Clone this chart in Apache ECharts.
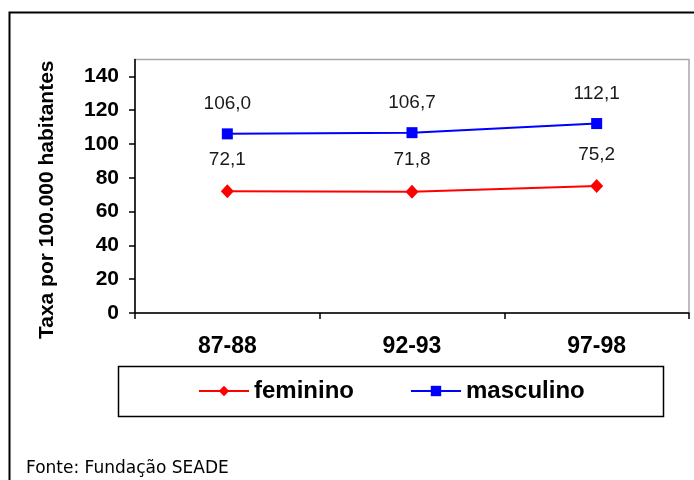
<!doctype html>
<html lang="pt">
<head>
<meta charset="utf-8">
<title>Taxa por 100.000 habitantes</title>
<script src="https://cdn.jsdelivr.net/npm/echarts@6/dist/echarts.min.js"></script>
<style>
html, body { margin: 0; padding: 0; background: #fff; }
#chart { width: 694px; height: 480px; }
</style>
</head>
<body>
<div id="chart"></div>
<script>
var periodos = ['87-88', '92-93', '97-98'];
var feminino = [72.1, 71.8, 75.2];
var masculino = [106.0, 106.7, 112.1];
var yTicks = [0, 20, 40, 60, 80, 100, 120, 140];

// rótulos com vírgula decimal
function virgula(p) {
    return p.value.toFixed(1).replace('.', ',');
}

var fonte = 'Liberation Sans, Arial, sans-serif';

var labelStyle = {
    show: true,
    position: 'top',
    distance: 15,
    formatter: virgula,
    fontFamily: fonte,
    fontSize: 19,
    color: '#1a1a1a'
};

var myChart = echarts.init(document.getElementById('chart'));

var option = {
    backgroundColor: '#fff',
    animation: false,
    grid: {
        left: 135,
        right: 5,
        top: 59.5,
        bottom: 167,
        show: true,
        borderColor: '#a8a8a8',
        borderWidth: 1.5,
        containLabel: false
    },
    legend: {
        left: 198,
        top: 379,
        padding: 0,
        itemGap: 56,
        itemWidth: 50,
        itemHeight: 13,
        textStyle: {
            fontFamily: fonte,
            fontWeight: 'bold',
            fontSize: 24,
            color: '#000'
        },
        data: ['feminino', 'masculino']
    },
    xAxis: {
        type: 'category',
        data: periodos,
        boundaryGap: true,
        axisLine: { lineStyle: { color: '#000', width: 1.5 } },
        axisTick: { show: true, length: 6, lineStyle: { color: '#000', width: 1.5 } },
        axisLabel: {
            margin: 22,
            fontFamily: fonte,
            fontWeight: 'bold',
            fontSize: 23,
            color: '#000'
        }
    },
    yAxis: {
        type: 'value',
        min: 0,
        max: 150,
        name: 'Taxa por 100.000 habitantes',
        nameLocation: 'middle',
        nameGap: 77,
        nameTextStyle: {
            fontFamily: fonte,
            fontWeight: 'bold',
            fontSize: 21,
            color: '#000',
            padding: [0, 27, 0, 0]
        },
        splitLine: { show: false },
        axisLine: { show: true, lineStyle: { color: '#000', width: 1.5 } },
        axisTick: { show: true, length: 6, customValues: yTicks, lineStyle: { color: '#000', width: 1.5 } },
        axisLabel: {
            customValues: yTicks,
            margin: 16,
            fontFamily: fonte,
            fontWeight: 'bold',
            fontSize: 21,
            color: '#000'
        }
    },
    series: [
        {
            name: 'feminino',
            type: 'line',
            data: feminino,
            symbol: 'diamond',
            symbolSize: [13, 14],
            lineStyle: { color: '#ff0000', width: 2 },
            itemStyle: { color: '#ff0000' },
            label: labelStyle
        },
        {
            name: 'masculino',
            type: 'line',
            data: masculino,
            symbol: 'rect',
            symbolSize: 11,
            lineStyle: { color: '#0000ff', width: 2 },
            itemStyle: { color: '#0000ff' },
            label: labelStyle
        }
    ],
    graphic: [
        {
            type: 'rect',
            shape: { x: 9.5, y: 12.5, width: 720, height: 520 },
            style: { fill: 'none', stroke: '#000', lineWidth: 2 },
            silent: true
        },
        {
            type: 'rect',
            shape: { x: 118.5, y: 366.5, width: 545, height: 50 },
            style: { fill: 'none', stroke: '#000', lineWidth: 1.5 },
            silent: true
        },
        {
            type: 'text',
            left: 26,
            top: 460,
            style: {
                text: 'Fonte: Fundação SEADE',
                fontFamily: 'DejaVu Sans, sans-serif',
                fontSize: 17,
                fill: '#000'
            }
        }
    ]
};

myChart.setOption(option);
</script>
</body>
</html>
